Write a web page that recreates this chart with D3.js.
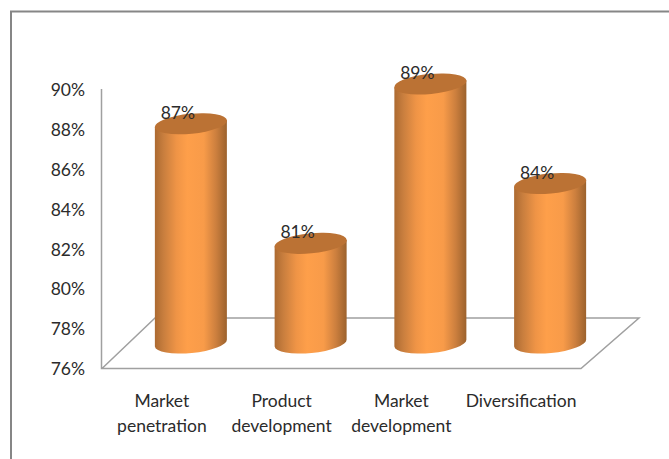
<!DOCTYPE html>
<html><head><meta charset="utf-8">
<script src="https://cdn.jsdelivr.net/npm/d3@7/dist/d3.min.js"></script>
<style>html,body{margin:0;padding:0;background:#fff}svg{display:block}text{font-family:Lato,"Open Sans",sans-serif;fill:#2b2b2b}</style>
</head><body><svg id="c" width="669" height="459"></svg>
<script>
const categories = [["Market","penetration"],["Product","development"],["Market","development"],["Diversification"]];
const values = [87,81,89,84];
const tickValues = [76,78,80,82,84,86,88,90];

const svg = d3.select("#c");
const x = d3.scaleBand().domain(d3.range(categories.length)).range([102,581]);
const y = d3.scaleLinear().domain([76,90]).range([368,89]);
const depthX = 53, depthY = 50;
const barOffsetX = 29, barOffsetY = -25, rx = 36, ry = 10, tilt = -5.5;
const cx = i => x(i) + x.bandwidth()/2 + barOffsetX;

// frame
svg.append("path").attr("d","M11,459V11.5H669").attr("fill","none").attr("stroke","#868686").attr("stroke-width",2);

// gradient
const g = svg.append("defs").append("linearGradient").attr("id","cyl");
[[0,"#ac6a31"],[0.12,"#c87e3e"],[0.3,"#ef9446"],[0.45,"#fe9f4a"],[0.68,"#f89b49"],[0.85,"#cc7f3e"],[1,"#9c622d"]]
  .forEach(s=>g.append("stop").attr("offset",s[0]).attr("stop-color",s[1]));

// floor
const bx0 = x.range()[0], bx1 = x.range()[1], by = y(76);
svg.append("path")
  .attr("d",`M${bx0-.5},${y(90)}V${by+.5}H${bx1}L${bx1+depthX+5},${by-depthY}H${bx0+depthX}L${bx0},${by+.5}`)
  .attr("fill","none").attr("stroke","#a0a0a0").attr("stroke-width",1.5);

// y axis labels
const axis = d3.axisLeft(y).tickValues(tickValues).tickFormat(d=>d+"%").tickSize(0).tickPadding(0);
const ga = svg.append("g").attr("transform","translate(85,1)").call(axis);
ga.select(".domain").remove();
ga.selectAll("text").attr("font-size",17.5).style("font-family",'Lato,"Open Sans",sans-serif').attr("fill","#2b2b2b");

// cylinders
const bars = svg.selectAll("g.bar").data(values).join("g").attr("class","bar");
const yBot = y(76)+barOffsetY;
const dy = rx*Math.tan(tilt*Math.PI/180);
bars.append("path").attr("fill","url(#cyl)").attr("d",(d,i)=>{
  const c=cx(i), t=y(d)+barOffsetY;
  return `M${c-rx},${t-dy}L${c-rx},${yBot-dy}A${rx},${ry} ${tilt} 0 0 ${c+rx},${yBot+dy}L${c+rx},${t+dy}Z`;
});
bars.append("ellipse").attr("fill","#bb7234")
  .attr("cx",(d,i)=>cx(i)).attr("cy",d=>y(d)+barOffsetY)
  .attr("rx",rx+.3).attr("ry",ry)
  .attr("transform",(d,i)=>`rotate(${tilt} ${cx(i)} ${y(d)+barOffsetY})`);

// data labels
bars.append("text").attr("text-anchor","middle").attr("font-size",17.5)
  .attr("x",(d,i)=>cx(i)-13).attr("y",d=>y(d)+barOffsetY-5).text(d=>d+"%");

// category labels
svg.selectAll("text.cat").data(categories).join("text").attr("class","cat")
  .attr("text-anchor","middle").attr("font-size",17.5)
  .each(function(d,i){
    d3.select(this).selectAll("tspan").data(d).join("tspan")
      .attr("x",x(i)+x.bandwidth()/2).attr("y",(l,j)=>407+j*25).text(l=>l);
  });
</script></body></html>
